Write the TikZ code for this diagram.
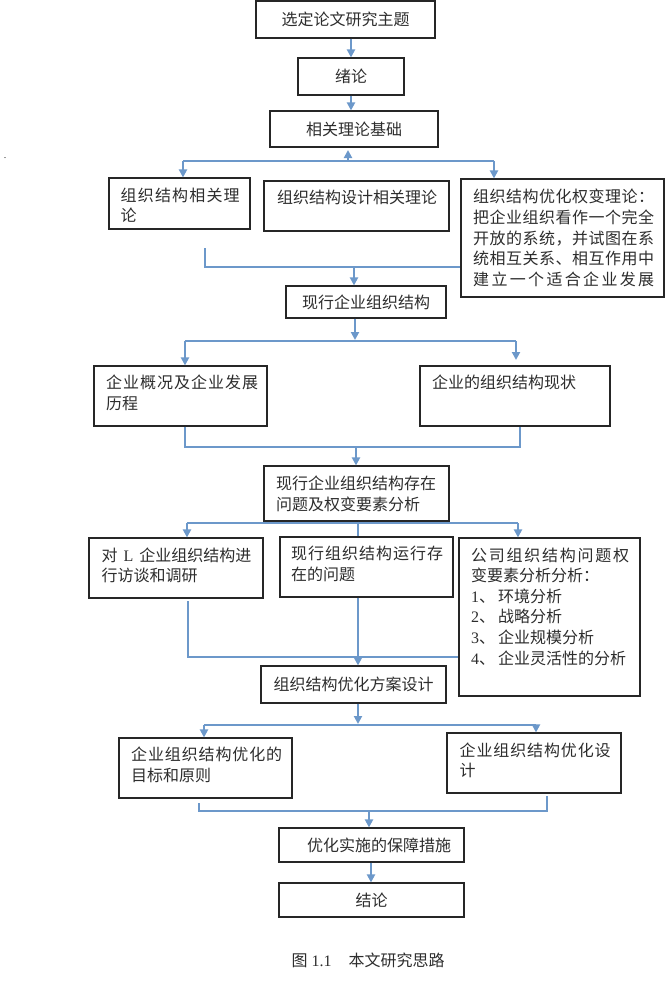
\documentclass[tikz,border=0pt]{standalone}
\usepackage{fontspec}
\setmainfont{Liberation Serif}
\newfontfamily\cjk{Noto Sans CJK SC}
\usetikzlibrary{arrows.meta,calc}
\definecolor{lineblue}{RGB}{108,152,202}
\definecolor{txtgray}{RGB}{45,45,45}
\makeatletter
\def\jl#1#2{\makebox[#1][s]{\jl@a#2\relax}}
\def\jl@a#1{#1\futurelet\jl@next\jl@b}
\def\jl@b{\ifx\jl@next\relax\expandafter\@gobble\else\hfil\expandafter\jl@a\fi}
\makeatother
\begin{document}
\begin{tikzpicture}[x=1pt,y=-1pt,
  box/.style={draw=black!85, line width=1.1pt, rectangle, inner sep=0pt, fill=white},
  cbox/.style={box, font=\cjk\fontsize{16}{20.6}\selectfont, text=txtgray},
  lbl/.style={font=\cjk\fontsize{16}{20.6}\selectfont, text=txtgray, inner sep=0pt, align=left, anchor=north west},
  conn/.style={draw=lineblue, line width=2pt},
  arr/.style={conn, -{Triangle[length=8pt,width=8pt]}}]
\useasboundingbox (0,0) rectangle (670,983);
% boxes
\node[cbox,minimum width=179pt,minimum height=37pt] (b1) at (345.5,19.5) {选定论文研究主题};
\node[cbox,minimum width=106pt,minimum height=37pt] (b2) at (351,76.5) {绪论};
\node[cbox,minimum width=168pt,minimum height=36pt] (b3) at (354,129) {相关理论基础};
\node[box,minimum width=141pt,minimum height=51pt] (bA) at (179.5,203.5) {};
\node[lbl] (tA) at (120.5,187.5) {\jl{119pt}{组织结构相关理}\\论};
\node[box,minimum width=185pt,minimum height=50pt] (bB) at (356.5,206) {};
\node[lbl] (tB) at (277,189.5) {组织结构设计相关理论};
\node[box,minimum width=203pt,minimum height=118pt] (bC) at (562.5,238) {};
\node[lbl] (tC) at (473,189.2) {\jl{181pt}{组织结构优化权变理论：}\\\jl{181pt}{把企业组织看作一个完全}\\\jl{181pt}{开放的系统，并试图在系}\\\jl{181pt}{统相互关系、相互作用中}\\\jl{181pt}{建立一个适合企业发展}};
\node[cbox,minimum width=160pt,minimum height=32pt] (bD) at (366,302) {现行企业组织结构};
\node[box,minimum width=173pt,minimum height=60pt] (bE) at (180.5,396) {};
\node[lbl] (tE) at (106,375.2) {\jl{152pt}{企业概况及企业发展}\\历程};
\node[box,minimum width=190pt,minimum height=60pt] (bF) at (515,396) {};
\node[lbl] (tF) at (432,375.2) {企业的组织结构现状};
\node[box,minimum width=185pt,minimum height=55pt] (bG) at (356.5,493.5) {};
\node[lbl] (tG) at (276,475.8) {现行企业组织结构存在\\问题及权变要素分析};
\node[box,minimum width=174pt,minimum height=60pt] (bH) at (176,568) {};
\node[lbl] (tH) at (101.5,547.5) {对\hspace{6pt}\textrm{L}\hspace{6pt}企业组织结构进\\行访谈和调研};
\node[box,minimum width=173pt,minimum height=60pt] (bI) at (366.5,567) {};
\node[lbl] (tI) at (291,545.8) {\jl{152pt}{现行组织结构运行存}\\在的问题};
\node[box,minimum width=181pt,minimum height=158pt] (bJ) at (549.5,617) {};
\node[lbl] (tJ) at (471,547.5) {\jl{158pt}{公司组织结构问题权}\\变要素分析分析：\\\textrm{1}、\hspace{3pt}环境分析\\\textrm{2}、\hspace{3pt}战略分析\\\textrm{3}、\hspace{3pt}企业规模分析\\\textrm{4}、\hspace{3pt}企业灵活性的分析};
\node[cbox,minimum width=185pt,minimum height=37pt] (bK) at (353.5,684.5) {组织结构优化方案设计};
\node[box,minimum width=173pt,minimum height=60pt] (bM) at (205.5,768) {};
\node[lbl] (tM) at (131,746.8) {\jl{151pt}{企业组织结构优化的}\\目标和原则};
\node[box,minimum width=174pt,minimum height=60pt] (bN) at (534,763) {};
\node[lbl] (tN) at (459.5,742.5) {\jl{151pt}{企业组织结构优化设}\\计};
\node[box,minimum width=185pt,minimum height=34pt] (bO) at (371.5,845) {};
\node[lbl,anchor=center] (tO) at (379,845) {优化实施的保障措施};
\node[cbox,minimum width=185pt,minimum height=34pt] (bP) at (371.5,900) {结论};
\node[lbl,anchor=center] (cap) at (368,960) {图\hspace{4pt}\textrm{1.1}\hspace{17pt}本文研究思路};
\node[font=\rmfamily\fontsize{10}{10}\selectfont, text=txtgray, anchor=base, inner sep=0pt] (dot) at (5,158) {.};
% connectors
\draw[arr] (b2.north |- b1.south) -- (b2.north);
\draw[arr] (b2.south) -- (b2.south |- b3.north);
\coordinate (j1) at (348,161); \coordinate (t1) at (348,150);
\coordinate (L1) at (183,161); \coordinate (R1) at (494,161);
\draw[conn] (L1) -- (R1);
\draw[arr] (j1) -- (t1);
\draw[arr] (L1) -- (L1 |- bA.north);
\draw[arr] (R1) -- (R1 |- bC.north);
\coordinate (a1) at (205,248); \coordinate (m1) at (354,267);
\draw[conn] (a1) |- (m1 -| bC.west);
\draw[arr] (m1) -- (m1 |- bD.north);
\coordinate (j2) at (355,340);
\draw[arr] (j2 |- bD.south) -- (j2);
\coordinate (L2) at (185,341); \coordinate (R2) at (516,341); \coordinate (f2) at (516,360);
\draw[conn] (L2) -- (R2);
\draw[arr] (L2) -- (L2 |- bE.north);
\draw[arr] (R2) -- (f2);
\coordinate (e1) at (185,447); \coordinate (f1) at (520,447); \coordinate (m2) at (356,447);
\draw[conn] (e1 |- bE.south) -- (e1) -- (f1) -- (f1 |- bF.south);
\draw[arr] (m2) -- (m2 |- bG.north);
\coordinate (g1) at (358,523);
\draw[conn] (g1 |- bG.south) -- (g1 |- bI.north);
\coordinate (L3) at (187,523); \coordinate (R3) at (518,523);
\draw[conn] (L3) -- (R3);
\draw[arr] (L3) -- (L3 |- bH.north);
\draw[arr] (R3) -- (R3 |- bJ.north);
\coordinate (h1) at (188,601); \coordinate (h2) at (188,657);
\draw[conn] (h1) -- (h2) -- (h2 -| bJ.west);
\coordinate (i1) at (358,600);
\draw[arr] (i1 |- bI.south) -- (i1 |- bK.north);
\coordinate (k1) at (358,724);
\draw[arr] (k1 |- bK.south) -- (k1);
\coordinate (L4) at (204,725); \coordinate (R4) at (536,725);
\draw[conn] (L4) -- (R4);
\draw[arr] (L4) -- (L4 |- bM.north);
\draw[arr] (R4) -- (R4 |- bN.north);
\coordinate (ma) at (199,803); \coordinate (L5) at (199,811); \coordinate (R5) at (547,811); \coordinate (na) at (547,796);
\draw[conn] (ma) -- (L5) -- (R5) -- (na);
\coordinate (m5) at (369,811);
\draw[arr] (m5) -- (m5 |- bO.north);
\coordinate (o1) at (371,860);
\draw[arr] (o1 |- bO.south) -- (o1 |- bP.north);
\end{tikzpicture}
\end{document}
